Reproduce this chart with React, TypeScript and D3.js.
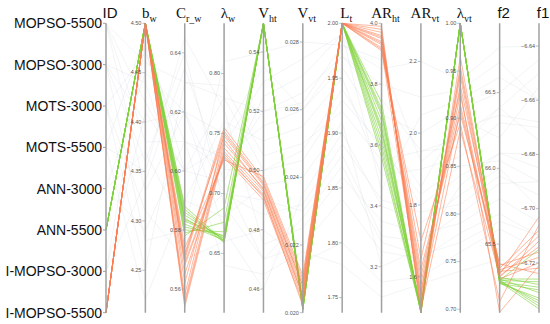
import React from 'react';
import * as d3 from 'd3';

// parallel coordinates, ANN-5500 (green) and I-MOPSO-5500 (orange) highlighted

const dimKeys = ['ID', 'bw', 'crw', 'lw', 'vht', 'vvt', 'lt', 'arht', 'arvt', 'lvt', 'f2', 'f1'];

const idCategories = ['MOPSO-5500', 'MOPSO-3000', 'MOTS-3000', 'MOTS-5500', 'ANN-3000', 'ANN-5500', 'I-MOPSO-3000', 'I-MOPSO-5500'];

// axis domains (bottom, top)
const domains: Record<string, [number, number]> = {
  bw: [4.207, 4.5],
  crw: [0.552, 0.65],
  lw: [0.6005, 0.842],
  vht: [0.452, 0.5497],
  vvt: [0.02, 0.02855],
  lt: [1.7363, 2.0],
  arht: [3.049, 4.0],
  arvt: [1.5, 2.306],
  lvt: [0.6964, 1.0],
  f2: [65.047, 66.957],
  f1: [-6.7384, -6.6316],
};

const bwTicks = [4.25, 4.3, 4.35, 4.4, 4.45, 4.5];
const crwTicks = [0.56, 0.58, 0.6, 0.62, 0.64];
const lwTicks = [0.65, 0.7, 0.75, 0.8];
const vhtTicks = [0.46, 0.48, 0.5, 0.52, 0.54];
const vvtTicks = [0.02, 0.022, 0.024, 0.026, 0.028];
const ltTicks = [1.75, 1.8, 1.85, 1.9, 1.95, 2.0];
const arhtTicks = [3.2, 3.4, 3.6, 3.8, 4.0];
const arvtTicks = [1.6, 1.8, 2.0, 2.2];
const lvtTicks = [0.7, 0.75, 0.8, 0.85, 0.9, 0.95, 1.0];
const f2Ticks = [65.5, 66.0, 66.5];
const f1Ticks = [-6.72, -6.7, -6.68, -6.66, -6.64];

// background solutions: id, then bw, crw, lw, vht, vvt, lt, arht, arvt, lvt, f2, f1
const bgIds = [
  'MOPSO-5500', 'MOPSO-5500', 'MOPSO-5500', 'MOPSO-5500',
  'MOPSO-3000', 'MOPSO-3000', 'MOPSO-3000', 'MOPSO-3000',
  'MOTS-3000', 'MOTS-3000', 'MOTS-3000',
  'MOTS-5500', 'MOTS-5500', 'MOTS-5500',
  'ANN-3000', 'ANN-3000', 'ANN-3000',
  'I-MOPSO-3000', 'I-MOPSO-3000', 'I-MOPSO-3000',
];
const bgRows = [
  [4.46, 0.63, 0.78, 0.52, 0.0265, 1.97, 3.75, 1.95, 0.88, 66.4, -6.65],
  [4.38, 0.61, 0.72, 0.5, 0.0245, 1.93, 3.6, 1.8, 0.84, 66.1, -6.68],
  [4.42, 0.6, 0.74, 0.53, 0.0275, 1.99, 3.45, 2.05, 0.92, 66.6, -6.66],
  [4.33, 0.62, 0.7, 0.49, 0.023, 1.88, 3.3, 1.7, 0.8, 65.9, -6.69],
  [4.44, 0.59, 0.76, 0.51, 0.0255, 1.95, 3.5, 1.9, 0.86, 66.3, -6.67],
  [4.36, 0.64, 0.69, 0.47, 0.022, 1.84, 3.25, 1.65, 0.78, 65.7, -6.71],
  [4.28, 0.58, 0.81, 0.54, 0.028, 1.98, 3.85, 2.2, 0.94, 66.8, -6.64],
  [4.4, 0.62, 0.67, 0.46, 0.0235, 1.9, 3.4, 1.75, 0.82, 66.0, -6.7],
  [4.47, 0.61, 0.73, 0.515, 0.026, 1.96, 3.65, 1.85, 0.9, 66.2, -6.655],
  [4.31, 0.57, 0.66, 0.48, 0.0215, 1.8, 3.15, 1.6, 0.76, 65.6, -6.715],
  [4.25, 0.63, 0.79, 0.505, 0.025, 1.92, 3.55, 1.95, 0.87, 66.4, -6.675],
  [4.49, 0.6, 0.71, 0.525, 0.027, 1.99, 3.7, 2.0, 0.91, 66.5, -6.645],
  [4.35, 0.645, 0.77, 0.475, 0.0225, 1.86, 3.35, 1.72, 0.79, 65.8, -6.705],
  [4.22, 0.59, 0.68, 0.495, 0.024, 1.91, 3.2, 1.68, 0.83, 66.1, -6.685],
  [4.45, 0.62, 0.75, 0.535, 0.026, 1.97, 3.8, 2.1, 0.93, 66.7, -6.66],
  [4.37, 0.58, 0.7, 0.485, 0.0232, 1.89, 3.42, 1.78, 0.81, 65.95, -6.695],
  [4.29, 0.61, 0.64, 0.465, 0.0218, 1.78, 3.1, 1.58, 0.74, 65.4, -6.725],
  [4.48, 0.575, 0.72, 0.52, 0.0262, 1.98, 3.88, 1.92, 0.89, 66.35, -6.668],
  [4.41, 0.6, 0.78, 0.5, 0.0248, 1.94, 3.58, 1.83, 0.85, 66.05, -6.69],
  [4.34, 0.635, 0.71, 0.47, 0.0228, 1.87, 3.28, 1.66, 0.77, 65.65, -6.71],
];

// ANN-5500 (green)
const annRows = [
  [4.5, 0.588, 0.66, 0.5497, 0.0201, 2.0, 3.74, 1.5, 1.0, 65.26, -6.727],
  [4.5, 0.586, 0.661, 0.5497, 0.0201, 2.0, 3.72, 1.505, 1.0, 65.25, -6.729],
  [4.5, 0.585, 0.662, 0.5497, 0.0202, 2.0, 3.7, 1.5, 1.0, 65.27, -6.731],
  [4.5, 0.584, 0.66, 0.5497, 0.0201, 2.0, 3.68, 1.51, 1.0, 65.24, -6.733],
  [4.5, 0.583, 0.663, 0.5497, 0.0202, 2.0, 3.66, 1.5, 1.0, 65.26, -6.735],
  [4.5, 0.582, 0.661, 0.5497, 0.0201, 2.0, 3.64, 1.505, 1.0, 65.25, -6.737],
  [4.5, 0.581, 0.665, 0.5497, 0.0203, 2.0, 3.62, 1.515, 1.0, 65.27, -6.726],
  [4.5, 0.58, 0.668, 0.5497, 0.0201, 2.0, 3.6, 1.5, 1.0, 65.24, -6.73],
  [4.5, 0.579, 0.676, 0.5497, 0.0202, 2.0, 3.58, 1.51, 1.0, 65.26, -6.715],
  [4.5, 0.578, 0.688, 0.5497, 0.0201, 2.0, 3.56, 1.505, 1.0, 65.25, -6.734],
  [4.5, 0.587, 0.659, 0.5497, 0.0202, 2.0, 3.71, 1.5, 1.0, 65.28, -6.728],
  [4.5, 0.5835, 0.664, 0.5497, 0.0201, 2.0, 3.65, 1.51, 1.0, 65.26, -6.736],
];

// I-MOPSO-5500 (orange)
const imopsoRows = [
  [4.5, 0.571, 0.755, 0.497, 0.021, 2.0, 3.99, 1.5, 0.965, 65.3, -6.703],
  [4.5, 0.57, 0.752, 0.496, 0.0209, 2.0, 3.97, 1.52, 0.955, 65.34, -6.708],
  [4.5, 0.572, 0.748, 0.495, 0.0208, 2.0, 3.96, 1.54, 0.945, 65.28, -6.712],
  [4.5, 0.556, 0.742, 0.494, 0.0207, 2.0, 3.95, 1.56, 0.935, 65.36, -6.716],
  [4.5, 0.555, 0.738, 0.493, 0.0206, 2.0, 3.94, 1.58, 0.925, 65.27, -6.72],
  [4.5, 0.554, 0.735, 0.492, 0.0205, 2.0, 3.93, 1.6, 0.915, 65.32, -6.722],
  [4.5, 0.565, 0.733, 0.491, 0.0204, 2.0, 3.92, 1.62, 0.905, 65.37, -6.724],
  [4.5, 0.568, 0.73, 0.49, 0.0203, 2.0, 3.91, 1.7, 0.895, 65.12, -6.706],
  [4.5, 0.574, 0.728, 0.498, 0.0211, 2.0, 3.98, 1.51, 0.888, 65.29, -6.714],
  [4.5, 0.558, 0.75, 0.4955, 0.0208, 2.0, 3.955, 1.55, 0.95, 65.33, -6.718],
  [4.5, 0.562, 0.745, 0.4935, 0.0205, 2.0, 3.935, 1.65, 0.93, 65.05, -6.721],
  [4.5, 0.569, 0.731, 0.4915, 0.0202, 2.0, 3.915, 1.53, 0.91, 65.31, -6.71],
];

const axisTicks: Record<string, { values: number[]; fmt: string }> = {
  bw: { values: bwTicks, fmt: '.2f' },
  crw: { values: crwTicks, fmt: '.2f' },
  lw: { values: lwTicks, fmt: '.2f' },
  vht: { values: vhtTicks, fmt: '.2f' },
  vvt: { values: vvtTicks, fmt: '.3f' },
  lt: { values: ltTicks, fmt: '.2f' },
  arht: { values: arhtTicks, fmt: '.1f' },
  arvt: { values: arvtTicks, fmt: '.1f' },
  lvt: { values: lvtTicks, fmt: '.2f' },
  f2: { values: f2Ticks, fmt: '.1f' },
  f1: { values: f1Ticks, fmt: '.2f' },
};

// axis titles: main text + subscript, serif or sans
const titles: Record<string, { main: string; sub?: string; serif: boolean }> = {
  ID: { main: 'ID', serif: false },
  bw: { main: 'b', sub: 'w', serif: true },
  crw: { main: 'C', sub: 'r_w', serif: true },
  lw: { main: 'λ', sub: 'w', serif: true },
  vht: { main: 'V', sub: 'ht', serif: true },
  vvt: { main: 'V', sub: 'vt', serif: true },
  lt: { main: 'L', sub: 't', serif: true },
  arht: { main: 'AR', sub: 'ht', serif: true },
  arvt: { main: 'AR', sub: 'vt', serif: true },
  lvt: { main: 'λ', sub: 'vt', serif: true },
  f2: { main: 'f2', serif: false },
  f1: { main: 'f1', serif: false },
};

const W = 550;
const H = 324;
const yTop = 23.3;
const yBottom = 312.7;

const App = () => {
  const x = d3.scalePoint<string>().domain(dimKeys).range([106, 539]);
  const idScale = d3.scalePoint<string>().domain(idCategories).range([yTop, yBottom]);
  const yScales: Record<string, d3.ScaleLinear<number, number>> = {};
  dimKeys.slice(1).forEach(k => {
    yScales[k] = d3.scaleLinear().domain(domains[k]).range([yBottom, yTop]);
  });

  const line = d3.line<[number, number]>().x(d => d[0]).y(d => d[1]);
  const pathFor = (id: string, row: number[]) => {
    const pts: [number, number][] = [[x('ID')!, idScale(id)!]];
    dimKeys.slice(1).forEach((k, i) => {
      pts.push([x(k)!, yScales[k](row[i])]);
    });
    return line(pts) || '';
  };

  const sans = 'Arial, "Liberation Sans", sans-serif';
  const serif = '"Liberation Serif", "Times New Roman", serif';

  return (
    <svg width={W} height={H} style={{ position: 'absolute', left: 0, top: 0, background: '#fff' }}>
      {/* background lines */}
      <g fill="none" stroke="#c8d0d6" strokeOpacity={0.3} strokeWidth={0.8}>
        {bgRows.map((r, i) => (
          <path key={i} d={pathFor(bgIds[i], r)} />
        ))}
      </g>
      <g fill="none" stroke="#7ed23a" strokeOpacity={0.6} strokeWidth={1}>
        {annRows.map((r, i) => (
          <path key={i} d={pathFor('ANN-5500', r)} />
        ))}
      </g>
      <g fill="none" stroke="#fb7d52" strokeOpacity={0.55} strokeWidth={1}>
        {imopsoRows.map((r, i) => (
          <path key={i} d={pathFor('I-MOPSO-5500', r)} />
        ))}
      </g>

      {/* axes */}
      {dimKeys.map(k => {
        const ax = x(k)!;
        const t = titles[k];
        return (
          <g key={k}>
            <line x1={ax} x2={ax} y1={yTop} y2={yBottom} stroke="#a0a0a0" strokeWidth={1.5} />
            {k === 'ID'
              ? idCategories.map(c => (
                  <g key={c}>
                    <line x1={ax - 3} x2={ax} y1={idScale(c)} y2={idScale(c)} stroke="#a0a0a0" />
                    <text x={ax - 4} y={idScale(c)! + 5} textAnchor="end" fontSize={14} fontFamily={sans} fill="#111">
                      {c}
                    </text>
                  </g>
                ))
              : axisTicks[k].values.map(v => {
                  const yy = yScales[k](v);
                  return (
                    <g key={v}>
                      <line x1={ax - 3} x2={ax} y1={yy} y2={yy} stroke="#999" strokeWidth={0.6} />
                      <text x={ax - 4} y={yy + 1.8} textAnchor="end" fontSize={5.5} fontFamily={sans} fill="#555">
                        {d3.format(axisTicks[k].fmt)(v)}
                      </text>
                    </g>
                  );
                })}
            <text
              x={ax + 4}
              y={18}
              textAnchor="middle"
              fontFamily={t.serif ? serif : sans}
              fontSize={15}
              fill="#111"
            >
              {t.main}
              {t.sub && (
                <tspan dy={3.5} fontSize={10}>
                  {t.sub}
                </tspan>
              )}
            </text>
          </g>
        );
      })}
    </svg>
  );
};

export default App;
